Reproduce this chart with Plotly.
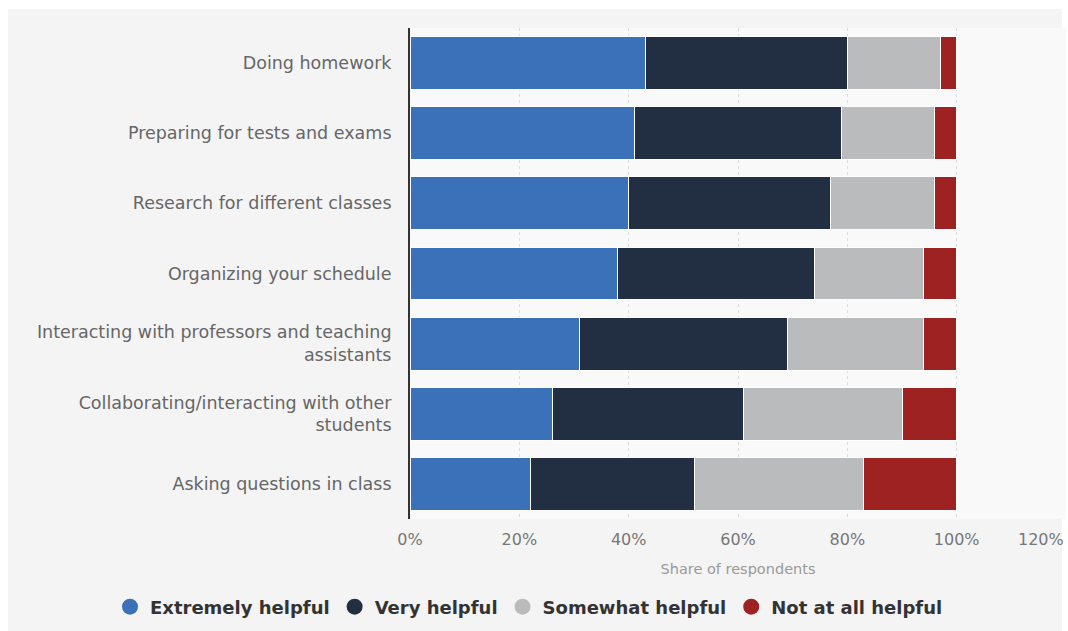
import plotly.graph_objects as go

# Survey data: share of respondents (%) per activity and rating
activities = [
    "Doing homework",
    "Preparing for tests and exams",
    "Research for different classes",
    "Organizing your schedule",
    "Interacting with professors and teaching<br>assistants",
    "Collaborating/interacting with other<br>students",
    "Asking questions in class",
]
extremely_helpful = [43, 41, 40, 38, 31, 26, 22]
very_helpful = [37, 38, 37, 36, 38, 35, 30]
somewhat_helpful = [17, 17, 19, 20, 25, 29, 31]
not_at_all_helpful = [3, 4, 4, 6, 6, 10, 17]

x_ticks = [0, 20, 40, 60, 80, 100]
x_tick_labels = ["0%", "20%", "40%", "60%", "80%", "100%"]

series = [
    ("Extremely helpful", extremely_helpful, "#3a71b8"),
    ("Very helpful", very_helpful, "#222e41"),
    ("Somewhat helpful", somewhat_helpful, "#babbbd"),
    ("Not at all helpful", not_at_all_helpful, "#9e2222"),
]

fig = go.Figure()

for name, values, color in series:
    fig.add_trace(go.Bar(
        y=activities,
        x=values,
        name=name,
        orientation="h",
        marker=dict(color=color, line=dict(color="#ffffff", width=1)),
        showlegend=False,
    ))

# Circle markers for the legend
for name, values, color in series:
    fig.add_trace(go.Scatter(
        x=[None], y=[None],
        mode="markers",
        name=name,
        marker=dict(color=color, size=18, symbol="circle"),
        showlegend=True,
    ))

fig.update_layout(
    width=1068,
    height=631,
    barmode="stack",
    bargap=0.245,
    margin=dict(l=410, r=2, t=28, b=112),
    paper_bgcolor="#ffffff",
    plot_bgcolor="#f9f9f9",
    font=dict(family="DejaVu Sans", color="#666666"),
    xaxis=dict(
        range=[0, 120],
        tickvals=x_ticks,
        ticktext=x_tick_labels,
        tickfont=dict(size=16, color="#777777"),
        showgrid=True,
        gridcolor="#dcdcdc",
        griddash="dot",
        gridwidth=1,
        zeroline=False,
        showline=False,
        ticks="",
        ticklabelstandoff=9,
        title=dict(
            text="Share of respondents",
            font=dict(size=14.5, color="#999999"),
            standoff=15,
        ),
        fixedrange=True,
    ),
    yaxis=dict(
        autorange="reversed",
        tickfont=dict(size=17.5, color="#666666"),
        showline=True,
        linecolor="#333333",
        linewidth=2,
        showgrid=False,
        ticks="",
        ticklabelstandoff=13,
        fixedrange=True,
    ),
    legend=dict(
        orientation="h",
        traceorder="normal",
        x=(110 - 410) / 656,
        y=(519 - 607) / 491,
        xanchor="left",
        yanchor="middle",
        font=dict(family="DejaVu Sans", size=18, color="#333333", weight="bold"),
        bgcolor="rgba(0,0,0,0)",
        itemclick=False,
    ),
    shapes=[
        # light grey panel behind the whole chart, leaving a thin white border
        dict(type="rect", xref="paper", yref="paper",
             x0=(8 - 410) / 656, x1=(1062 - 410) / 656,
             y0=(519 - 640) / 491, y1=1 + (28 - 9) / 491,
             fillcolor="#f4f4f4", line=dict(width=0), layer="below"),
        # slightly lighter plotting area
        dict(type="rect", xref="paper", yref="paper",
             x0=0, x1=1, y0=0, y1=1,
             fillcolor="#f9f9f9", line=dict(width=0), layer="below"),
    ],
    annotations=[
        dict(text="120%", x=120, y=0, xref="x", yref="paper",
             xanchor="right", yanchor="top", yshift=-9, showarrow=False,
             font=dict(size=16, color="#777777")),
    ],
)

fig.write_html("out.html")
